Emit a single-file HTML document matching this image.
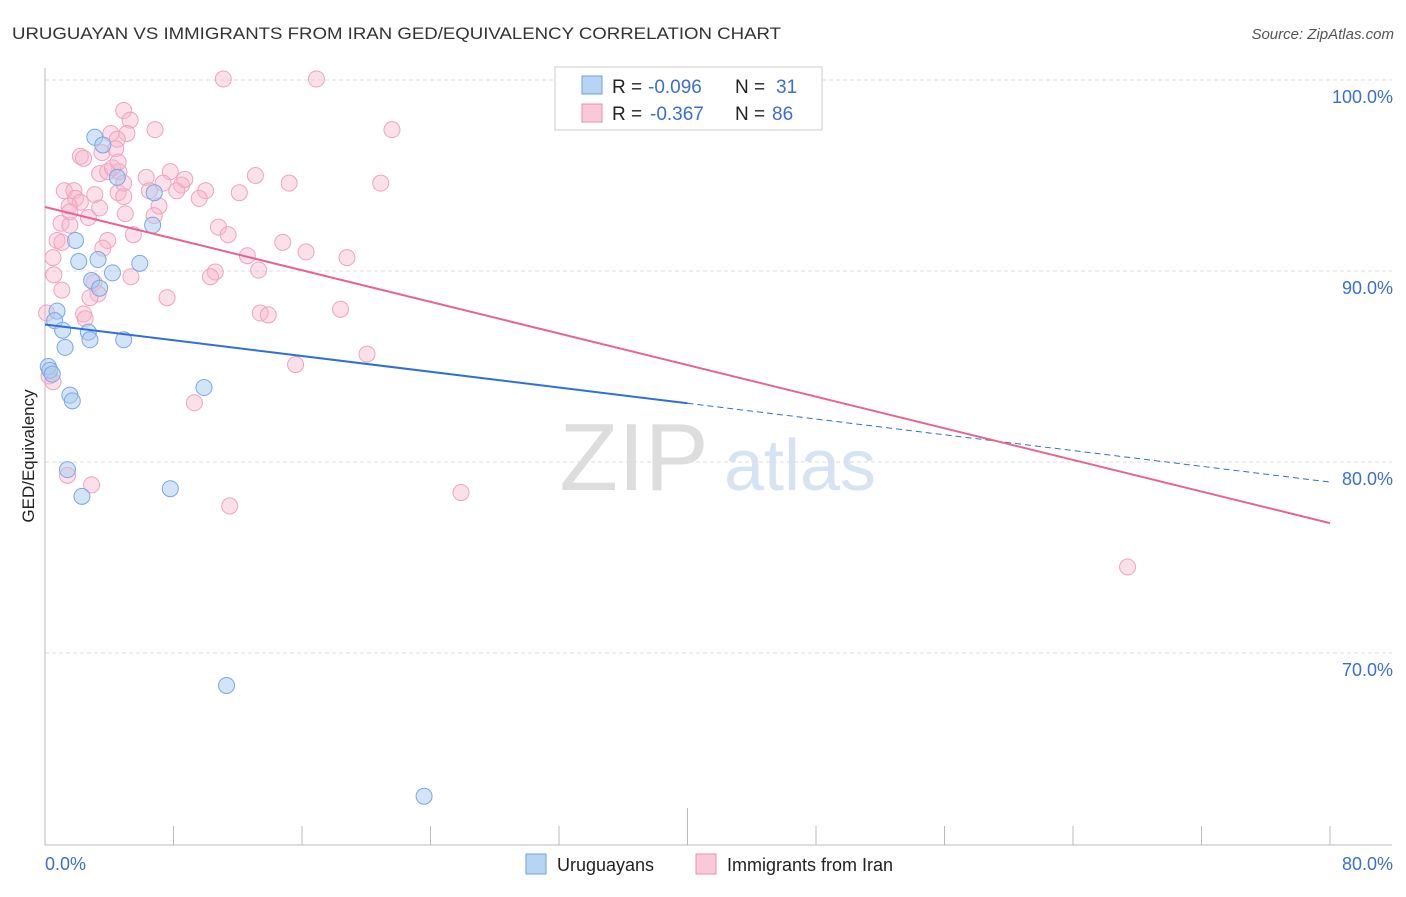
<!DOCTYPE html>
<html><head><meta charset="utf-8"><style>
body{margin:0;background:#fff;font-family:"Liberation Sans",sans-serif;}
svg text{font-family:"Liberation Sans",sans-serif;}
</style></head><body>
<svg id="chart" width="1406" height="892">
<text x="12" y="39" font-size="17" fill="#333" textLength="769" lengthAdjust="spacingAndGlyphs">URUGUAYAN VS IMMIGRANTS FROM IRAN GED/EQUIVALENCY CORRELATION CHART</text>
<text x="1394" y="39" font-size="15" fill="#555" font-style="italic" text-anchor="end">Source: ZipAtlas.com</text>
<g>
<text x="634" y="490" font-size="96" fill="#ddd" font-family="Liberation Serif,serif" text-anchor="middle">ZIP</text>
<text x="800" y="490" font-size="72" fill="#d6e3f3" text-anchor="middle">atlas</text>
</g>
<g id="grid"></g><g id="axes"></g><g id="marks"></g><g id="lines"></g>
<text transform="translate(34,456) rotate(-90)" font-size="17" fill="#222" text-anchor="middle">GED/Equivalency</text>
<g>
<rect x="555" y="67" width="267" height="63" fill="#fff" stroke="#ccc"/>
<rect x="582" y="76" width="20" height="18" fill="#b8d4f5" stroke="#6fa0e0"/>
<rect x="582" y="104" width="20" height="18" fill="#fbc8d8" stroke="#ea8fae"/>
<text x="612" y="93" font-size="19" fill="#222">R =</text>
<text x="648" y="93" font-size="19" fill="#3a6fd0">-0.096</text>
<text x="735" y="93" font-size="19" fill="#222">N =</text>
<text x="776" y="93" font-size="19" fill="#3a6fd0">31</text>
<text x="612" y="120" font-size="19" fill="#222">R =</text>
<text x="650" y="120" font-size="19" fill="#3a6fd0">-0.367</text>
<text x="735" y="120" font-size="19" fill="#222">N =</text>
<text x="772" y="120" font-size="19" fill="#3a6fd0">86</text>
</g>
<g>
<rect x="526" y="854" width="20" height="20" fill="#b8d4f5" stroke="#6fa0e0"/>
<text x="557" y="871" font-size="18" fill="#222">Uruguayans</text>
<rect x="696" y="854" width="20" height="20" fill="#fbc8d8" stroke="#ea8fae"/>
<text x="727" y="871" font-size="18" fill="#222">Immigrants from Iran</text>
</g>
</svg>
<script>
const blueX=[35.4,3.1,3.6,4.5,6.7,6.8,1.9,2.1,3.3,4.2,5.9,2.9,3.4,0.75,0.6,1.1,2.7,2.8,4.9,1.25,0.2,0.3,0.45,1.55,1.7,9.9,1.4,2.3,7.8,11.3,23.6];
const blueY=[100,97,96.6,94.9,92.4,94.1,91.6,90.5,90.6,89.9,90.4,89.5,89.1,87.9,87.4,86.9,86.8,86.4,86.4,86,85,84.8,84.6,83.5,83.2,83.9,79.6,78.2,78.6,68.3,62.5];
const pinkX=[11.1,16.9,4.9,5.3,6.85,21.6,4.1,5.1,4.5,3.55,2.2,2.4,4.4,7.8,3.4,4.6,6.3,7.35,8.5,8.2,15.2,20.9,10,1.2,1.8,4.55,4.9,9.6,1.9,2.2,1.5,7.1,5,6.8,2.7,1,1.55,10.8,11.4,5.5,3.9,0.75,1.05,14.8,3.6,12.6,16.25,18.8,0.5,0.55,13.3,10.6,10.3,5.35,1.05,3.05,3.3,2.8,7.6,18.4,13.4,13.9,2.4,2.5,0.1,20.05,15.6,0.25,0.5,9.3,1.4,2.9,11.5,25.9,67.4,3.9,4.2,4.9,3.1,1.55,3.4,12.1,8.7,6.5,13.1,4.55];
const pinkY=[100.05,100.05,98.4,97.9,97.4,97.4,97.2,97.2,96.9,96.2,96,95.9,96.4,95.2,95.1,95.2,94.9,94.6,94.5,94.2,94.6,94.6,94.2,94.2,94.2,94.1,93.9,93.8,93.8,93.6,93.4,93.4,93,92.9,92.8,92.5,92.4,92.3,91.9,91.9,91.6,91.6,91.5,91.5,91.2,90.8,91,90.7,90.7,89.8,90.05,89.95,89.7,89.7,89,89.4,88.8,88.6,88.6,88,87.8,87.7,87.75,87.5,87.8,85.65,85.1,84.5,84.2,83.1,79.3,78.8,77.7,78.4,74.5,95.2,95.4,94.6,94,93.1,93.3,94.1,94.8,94.2,95,95.7];
const yTicks=[100,90,80,70];
const xTickLabels=["0.0%","80.0%"];
const blueTrend=[87.2,78.95];
const pinkTrend=[93.35,76.8];
const NS="http://www.w3.org/2000/svg";
const sx=v=>45+v*16.0625, sy=v=>80+(100-v)*19.1;
function mk(tag,attrs,parent){const e=document.createElementNS(NS,tag);for(const k in attrs)e.setAttribute(k,attrs[k]);document.getElementById(parent).appendChild(e);return e;}
yTicks.forEach(t=>{
 const l=mk('line',{x1:45,x2:1392,y1:sy(t),y2:sy(t),stroke:'#ddd','stroke-dasharray':'4,3'},'grid');
 
 
 const tx=mk('text',{x:1393,y:sy(t)+23,'font-size':18,fill:'#3a6fd0','text-anchor':'end'},'grid');
 tx.textContent=t.toFixed(1)+'%';
 
 
});
mk('line',{x1:45,x2:45,y1:68,y2:845,stroke:'#bbb'},'axes');
mk('line',{x1:45,x2:1392,y1:845,y2:845,stroke:'#bbb'},'axes');
for(let i=1;i<=10;i++){const x=45+i*128.5;if(x>1335)break;const tl=mk('line',{x1:x,x2:x,y1:(i==5?808:826),y2:845,stroke:'#bbb'},'axes');}
[[xTickLabels[0],45,'start'],[xTickLabels[1],1393,'end']].forEach(a=>{const t=mk('text',{x:a[1],y:870,'font-size':18,fill:'#3a6fd0','text-anchor':a[2]},'axes');t.textContent=a[0];});
pinkX.forEach((x,i)=>{const c=mk('circle',{cx:sx(x),cy:sy(pinkY[i]),r:8,fill:'rgba(248,180,202,0.42)',stroke:'#eea4bd','stroke-width':1},'marks');});
blueX.forEach((x,i)=>{const c=mk('circle',{cx:sx(x),cy:sy(blueY[i]),r:8,fill:'rgba(170,202,242,0.5)',stroke:'#7aa8e4','stroke-width':1},'marks');});
let b1=mk('line',{x1:sx(0),y1:sy(blueTrend[0]),x2:sx(40),y2:sy((blueTrend[0]+blueTrend[1])/2),stroke:'#2f6fd6','stroke-width':2},'lines');

let b2=mk('line',{x1:sx(40),y1:sy((blueTrend[0]+blueTrend[1])/2),x2:sx(80),y2:sy(blueTrend[1]),stroke:'#2f6fd6','stroke-width':1,'stroke-dasharray':'6,4'},'lines');

let p1=mk('line',{x1:sx(0),y1:sy(pinkTrend[0]),x2:sx(80),y2:sy(pinkTrend[1]),stroke:'#e8648f','stroke-width':2},'lines');

</script>
</body></html>
